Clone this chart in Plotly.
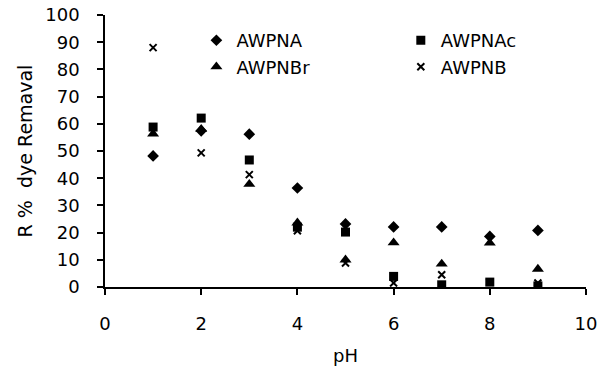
import plotly.graph_objects as go

ph = [1, 2, 3, 4, 5, 6, 7, 8, 9]
awpna = [48.2, 57.4, 56.2, 36.4, 23.2, 22.1, 22.1, 18.6, 20.8]
awpnac = [58.8, 62.1, 46.7, 22.0, 20.2, 3.9, 0.8, 1.8, 0.4]
awpnbr = [56.3, 58.0, 37.8, 23.6, 10.0, 16.3, 8.5, 16.2, 6.6]
awpnb = [88.0, 49.3, 41.3, 20.7, 8.8, 1.5, 4.5, 1.8, 1.5]

xticks = [0, 2, 4, 6, 8, 10]
yticks = [0, 10, 20, 30, 40, 50, 60, 70, 80, 90, 100]

FONT = "DejaVu Sans, sans-serif"

fig = go.Figure()
fig.add_trace(go.Scatter(x=ph, y=awpna, mode="markers", name="AWPNA",
                         marker=dict(symbol="diamond", size=9, color="black"),
                         legend="legend"))
fig.add_trace(go.Scatter(x=ph, y=awpnbr, mode="markers", name="AWPNBr",
                         marker=dict(symbol="triangle-up", size=10.5, color="black"),
                         legend="legend"))
fig.add_trace(go.Scatter(x=ph, y=awpnac, mode="markers", name="AWPNAc",
                         marker=dict(symbol="square", size=9, color="black"),
                         legend="legend2"))
fig.add_trace(go.Scatter(x=ph, y=awpnb, mode="markers", name="AWPNB",
                         marker=dict(symbol="x-thin-open", size=7, color="black",
                                     line=dict(width=2, color="black")),
                         legend="legend2"))

axis_common = dict(showgrid=False, zeroline=False, showline=True, linecolor="black",
                   linewidth=1.5, ticks="outside", ticklen=6, tickwidth=1.5,
                   tickcolor="black", automargin=False,
                   tickfont=dict(size=18, color="black", family=FONT))

fig.update_layout(
    width=598, height=379,
    margin=dict(l=105, r=12, t=15, b=92),
    paper_bgcolor="white", plot_bgcolor="white",
    font=dict(family=FONT, color="black"),
    showlegend=True,
    xaxis=dict(range=[0, 10], tickvals=xticks, ticklabelstandoff=14,
               title=dict(text="pH", font=dict(size=18, color="black"), standoff=16),
               **axis_common),
    yaxis=dict(range=[0, 100], tickvals=yticks, ticklabelstandoff=14,
               title=dict(text="R %  dye Remaval", font=dict(size=19, color="black"), standoff=8),
               **axis_common),
    legend=dict(x=0.19, y=0.974, xanchor="left", yanchor="top", bgcolor="rgba(0,0,0,0)",
                font=dict(size=18, color="black"), itemwidth=30, tracegroupgap=0),
    legend2=dict(x=0.615, y=0.974, xanchor="left", yanchor="top", bgcolor="rgba(0,0,0,0)",
                 font=dict(size=18, color="black"), itemwidth=30, tracegroupgap=0),
)

fig.write_html("out.html", config={"displayModeBar": False},
               post_script="document.body.style.margin='0';document.body.style.padding='0';")
